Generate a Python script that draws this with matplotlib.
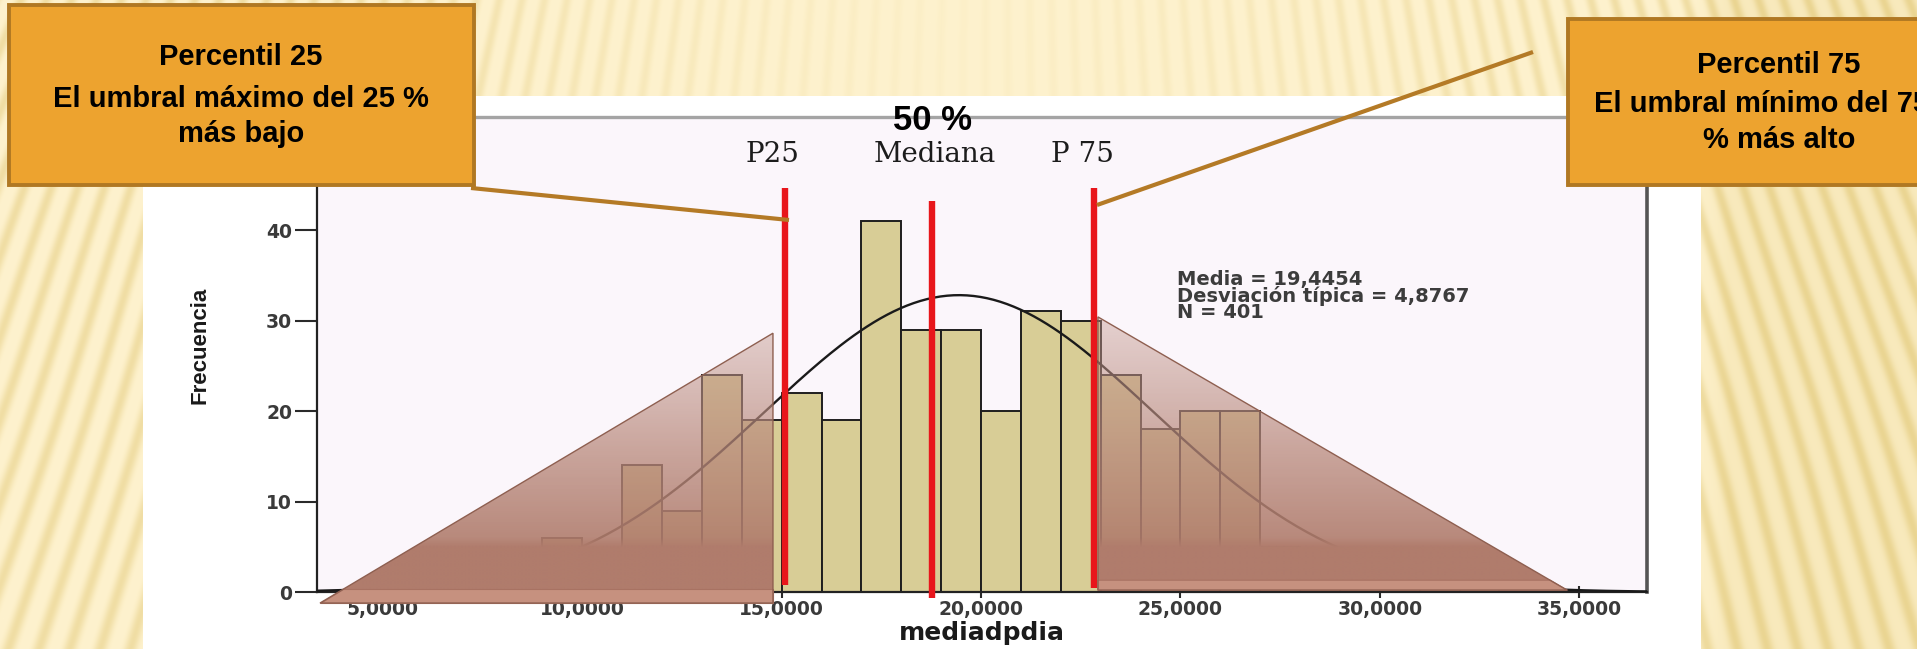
import numpy as np
import matplotlib
matplotlib.use("Agg")
import matplotlib.pyplot as plt
from matplotlib.patches import Rectangle, Polygon

# ---------------- data ----------------
bin_left = [6, 7, 8, 9, 10, 11, 12, 13, 14, 15, 16, 17, 18, 19, 20,
            21, 22, 23, 24, 25, 26, 27, 28, 29, 30, 31, 32]
counts = [1, 2, 3, 6, 4, 14, 9, 24, 19, 22, 19, 41, 29, 29, 20,
          31, 30, 24, 18, 20, 20, 5, 4, 3, 2, 1, 1]
BIN_WIDTH = 1.0
MEAN = 19.4454
SD = 4.8767
N = 401

pct_names = ["P25", "Mediana", "P 75"]
pct_values = [15.08, 18.77, 22.83]

xtick_values = [5, 10, 15, 20, 25, 30, 35]
xtick_labels = ["5,0000", "10,0000", "15,0000", "20,0000", "25,0000", "30,0000", "35,0000"]
ytick_values = [0, 10, 20, 30, 40]

stats_lines = ["Media = 19,4454", "Desviación típica = 4,8767", "N = 401"]
box_left_lines = ["Percentil 25", "El umbral máximo del 25 %", "más bajo"]
box_right_lines = ["Percentil 75", "El umbral mínimo del 75 %", "% más alto"]
center_label = "50 %"

# ---------------- figure ----------------
W, H, DPI = 1917, 649, 100
fig = plt.figure(figsize=(W / DPI, H / DPI), dpi=DPI)

# background (striped slide texture)
bg = fig.add_axes([0, 0, 1, 1], zorder=0)
yy, xx = np.mgrid[0:H, 0:W].astype(float)
cx, cy = 958.0, -2300.0
theta = np.arctan2(xx - cx, yy - cy)
phase = theta / 0.0095 * 2 * np.pi + 0.5 * np.sin(yy / 90.0)
profile = (0.5 + 0.5 * np.sin(phase)) ** 2
amp = 0.2 + 0.45 * np.clip(np.abs(xx - cx) / 700.0, 0, 1)
amp = amp * np.where(yy < 100, 0.45 + 0.55 * np.clip(np.abs(xx - cx) / 600.0, 0, 1), 1.0)
right_extra = 0.28 * np.clip((xx - 1690) / 40.0, 0, 1)
t = np.clip(amp * profile + right_extra, 0, 1)[..., None]
light = np.array([254, 242, 206]) / 255.0
dark = np.array([233, 211, 142]) / 255.0
img = light * (1 - t) + dark * t
bg.imshow(img, extent=(0, W, H, 0), aspect="auto", interpolation="bilinear")
bg.add_patch(Rectangle((143, 96), 1701 - 143, H - 96, fc="white", ec="none"))
bg.set_xlim(0, W)
bg.set_ylim(H, 0)
bg.axis("off")

# main histogram axes
ax = fig.add_axes([317 / W, (H - 592) / H, (1647 - 317) / W, (592 - 117) / H], zorder=1)
ax.set_xlim(3.345, 36.70)
ax.set_ylim(0, 52.49)
ax.set_autoscale_on(False)
ax.set_facecolor("#fbf6fb")

ax.bar(bin_left, counts, width=BIN_WIDTH, align="edge", color="#d8cd96",
       edgecolor="#1e1e1e", linewidth=1.4, zorder=2)

xs = np.linspace(3.345, 36.70, 400)
curve = N * BIN_WIDTH / (SD * np.sqrt(2 * np.pi)) * np.exp(-0.5 * ((xs - MEAN) / SD) ** 2)
ax.plot(xs, curve, color="#1a1a1a", lw=1.7, zorder=3)

red_top = [44.6, 43.2, 44.6]
red_bottom = [0.8, -0.7, 0.4]
for v, y0, y1 in zip(pct_values, red_bottom, red_top):
    ax.plot([v, v], [y0, y1], color="#e8161b", lw=4.6, solid_capstyle="butt",
            clip_on=False, zorder=4)

ax.set_xticks(xtick_values, xtick_labels)
ax.set_yticks(ytick_values)
ax.tick_params(axis="y", length=15.8, width=1.5, color="#2a2a2a", pad=2,
               labelsize=13.5, labelcolor="#3a3a3a")
ax.tick_params(axis="x", direction="inout", length=8, width=1.5, color="#2a2a2a",
               pad=2, labelsize=13.5, labelcolor="#3a3a3a")
for lbl in ax.get_xticklabels() + ax.get_yticklabels():
    lbl.set_fontweight("bold")

ax.spines["left"].set_color("#222222")
ax.spines["left"].set_linewidth(1.6)
ax.spines["bottom"].set_color("#222222")
ax.spines["bottom"].set_linewidth(1.6)
ax.spines["top"].set_color("#a4a4a4")
ax.spines["top"].set_linewidth(2.4)
ax.spines["right"].set_color("#555555")
ax.spines["right"].set_linewidth(2.6)

ax.set_xlabel("mediadpdia", fontsize=18, fontweight="bold", color="#1a1a1a")
ax.xaxis.set_label_coords(0.5, (592 - 633) / 475)
ax.xaxis.label.set_va("center")
ax.set_ylabel("Frecuencia", fontsize=16, fontweight="bold", color="#1a1a1a",
              family=["Liberation Sans Narrow", "Liberation Sans", "DejaVu Sans"])
ax.yaxis.set_label_coords((200 - 317) / 1330, (592 - 345) / 475)
ax.yaxis.label.set_va("center")

ax.text(0.6466, 0.678, "\n".join(stats_lines), transform=ax.transAxes,
        fontsize=14, fontweight="bold", color="#3c3c3c", va="top", ha="left",
        linespacing=0.82, zorder=5)

label_x = [14.757, 18.845, 22.53]
for name, lx in zip(pct_names, label_x):
    ax.text(lx, 48.3, name, ha="center", va="center", family="DejaVu Serif",
            fontsize=20, color="#1c1c1c", zorder=5)
ax.text(pct_values[1], 52.15, center_label, ha="center", va="center",
        family=["Liberation Sans", "DejaVu Sans"], fontweight="bold",
        fontsize=25, color="black", zorder=6, clip_on=False)

# overlay axes in pixel coordinates (y downward)
ov = fig.add_axes([0, 0, 1, 1], zorder=2)
ov.set_xlim(0, W)
ov.set_ylim(H, 0)
ov.set_autoscale_on(False)
ov.axis("off")


def to_ov(pts):
    disp = ax.transData.transform(np.asarray(pts, float))
    return ov.transData.inverted().transform(disp)


left_tri = to_ov([(3.42, -1.22), (14.78, 28.6), (14.78, -1.22)])
right_tri = to_ov([(22.93, 30.4), (22.93, 0.2), (34.70, 0.2)])


def shaded_triangle(pts, band_h):
    clip = Polygon(pts, closed=True, fc="none", ec="none")
    ov.add_patch(clip)
    xmin, xmax = pts[:, 0].min(), pts[:, 0].max()
    ymin, ymax = pts[:, 1].min(), pts[:, 1].max()
    ys = np.linspace(ymin, ymax, 300)
    grad = np.zeros((300, 1, 4))
    grad[:, 0, 0] = np.interp(ys, [320, 545], [196, 176]) / 255
    grad[:, 0, 1] = np.interp(ys, [320, 545], [154, 124]) / 255
    grad[:, 0, 2] = np.interp(ys, [320, 545], [144, 108]) / 255
    grad[:, 0, 3] = np.interp(ys, [320, 450, 538, 547], [0.42, 0.74, 0.9, 1.0])
    im = ov.imshow(grad, extent=(xmin, xmax, ymax, ymin), aspect="auto",
                   interpolation="bilinear", zorder=1)
    im.set_clip_path(clip)
    # lighter bevel band along the base
    order = np.argsort(pts[:, 1])
    base = pts[pts[:, 1] >= ymax - 0.5]
    bx0, bx1 = base[:, 0].min(), base[:, 0].max()
    apex = pts[order[0]]
    frac = band_h / (ymax - apex[1])
    if apex[0] >= bx1 - 0.5:
        inner_l = bx0 + (apex[0] - bx0) * frac
        inner_r = bx1
    else:
        inner_l = bx0
        inner_r = bx1 + (apex[0] - bx1) * frac
    band = Polygon([(bx0, ymax), (bx1, ymax), (inner_r, ymax - band_h),
                    (inner_l, ymax - band_h)], closed=True, fc="#c6917f",
                   ec="#a87262", lw=0.8, zorder=2)
    ov.add_patch(band)
    ov.add_patch(Polygon(pts, closed=True, fc="none", ec="#8e5f50", lw=1.0, zorder=3))


shaded_triangle(left_tri, 14)
shaded_triangle(right_tri, 10)

# connector lines
ov.plot([471, 789], [188, 220], color="#b47a26", lw=3, solid_capstyle="butt", zorder=4)
ov.plot([1533, 1097], [52, 205], color="#b47a26", lw=3, solid_capstyle="butt", zorder=4)

# callout boxes
ov.add_patch(Rectangle((9, 5), 465, 180, fc="#eda32f", ec="#b07823", lw=2.8, zorder=5))
ov.add_patch(Rectangle((1568, 19), 400, 166, fc="#eda32f", ec="#b07823", lw=2.8,
                       zorder=5, clip_on=False))

box_font = ["Liberation Sans", "DejaVu Sans"]
for line, yb in zip(box_left_lines, [65, 107, 142]):
    ov.text(241, yb, line, ha="center", va="baseline", fontsize=21,
            fontweight="bold", family=box_font, color="black", zorder=6)
for line, yb in zip(box_right_lines, [73, 112, 148]):
    ov.text(1779, yb, line, ha="center", va="baseline", fontsize=21,
            fontweight="bold", family=box_font, color="black", zorder=6)

fig.savefig("out.png", dpi=DPI)
